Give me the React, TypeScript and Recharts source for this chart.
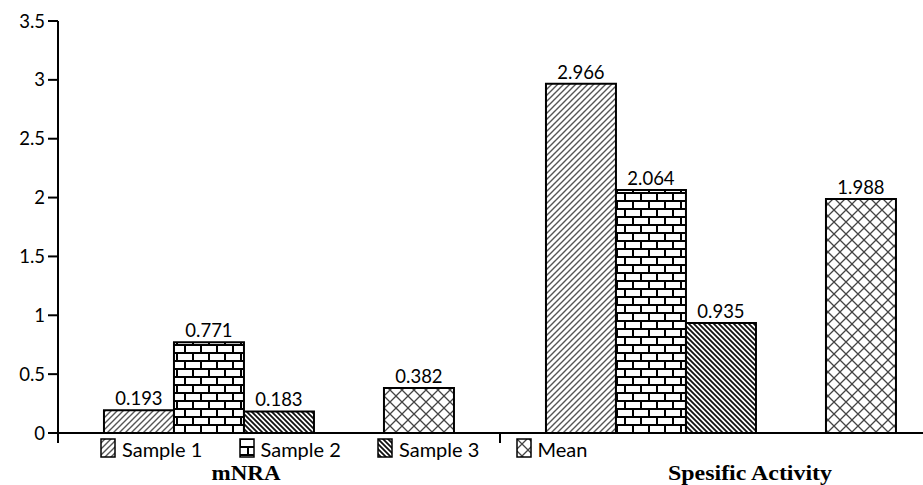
import * as React from "react"
import { BarChart, Bar, XAxis, YAxis, LabelList } from "recharts"

const categories = ["mNRA", "Spesific Activity"]
const sample1 = [0.193, 2.966]
const sample2 = [0.771, 2.064]
const sample3 = [0.183, 0.935]
const mean = [0.382, 1.988]
const yTicks = [0, 0.5, 1, 1.5, 2, 2.5, 3, 3.5]

const data = categories.map((name, i) => ({
  name,
  s1: sample1[i],
  s2: sample2[i],
  s3: sample3[i],
  mean: mean[i],
}))

const series = [
  { key: "s1", name: "Sample 1", fill: "url(#pat-s1)" },
  { key: "s2", name: "Sample 2", fill: "url(#pat-s2)" },
  { key: "s3", name: "Sample 3", fill: "url(#pat-s3)" },
  { key: "mean", name: "Mean", fill: "url(#pat-mean)" },
]

const BAND = 442
const labelShift: Record<string, { dx: number; w: number }> = {
  mNRA: { dx: -33, w: 69 },
  "Spesific Activity": { dx: 29, w: 164 },
}

function CategoryTick(props: any) {
  const { x, y, payload } = props
  const s = labelShift[payload.value] || { dx: 0, w: 80 }
  const edge = x - BAND / 2
  return (
    <g>
      <line x1={edge} y1={y} x2={edge} y2={y + 10} stroke="#000" strokeWidth={2} />
      <text
        x={x + s.dx}
        y={y + 47}
        textAnchor="middle"
        fontFamily="'Liberation Serif', serif"
        fontWeight="bold"
        fontSize={20}
        fill="#000"
        textLength={s.w}
        lengthAdjust="spacingAndGlyphs"
      >
        {payload.value}
      </text>
    </g>
  )
}

function Patterns() {
  return (
    <defs>
      <pattern id="pat-s1" width="6" height="6" patternUnits="userSpaceOnUse">
        <rect width="6" height="6" fill="#fff" />
        <path d="M0,6 L6,0 M-1.5,1.5 L1.5,-1.5 M4.5,7.5 L7.5,4.5" stroke="#555" strokeWidth={1.4} />
      </pattern>
      <pattern id="pat-s2" width="16" height="16" patternUnits="userSpaceOnUse">
        <rect width="16" height="16" fill="#fff" />
        <path d="M0,1 H16 M0,9 H16 M1,1 V9 M9,9 V17" stroke="#000" strokeWidth={2} fill="none" />
      </pattern>
      <pattern id="pat-s3" width="5" height="5" patternUnits="userSpaceOnUse">
        <rect width="5" height="5" fill="#fff" />
        <path d="M0,0 L5,5 M-1.25,3.75 L1.25,6.25 M3.75,-1.25 L6.25,1.25" stroke="#111" strokeWidth={1.8} />
      </pattern>
      <pattern id="pat-mean" width="12" height="12" patternUnits="userSpaceOnUse">
        <rect width="12" height="12" fill="#fff" />
        <path d="M0,0 L12,12 M12,0 L0,12" stroke="#444" strokeWidth={1.3} />
      </pattern>
    </defs>
  )
}

const fmt = (v: any) => (typeof v === "number" ? v.toFixed(3) : "")
const valueStyle = { fill: "#000", fontSize: 18.5, fontFamily: "Lato" }

export default function App() {
  return (
    <div style={{ position: "absolute", left: 0, top: 0, width: 923, height: 485, overflow: "hidden", background: "#fff" }}>
      <BarChart
        width={950}
        height={485}
        data={data}
        margin={{ top: 21, right: 8, left: 0, bottom: 0 }}
        barGap={0}
        barCategoryGap="10.4%"
      >
        <Patterns />
        <XAxis
          dataKey="name"
          height={52}
          axisLine={{ stroke: "#000", strokeWidth: 2 }}
          tickLine={false}
          tickSize={0}
          tickMargin={0}
          tick={<CategoryTick />}
          interval={0}
        />
        <YAxis
          width={58}
          domain={[0, 3.5]}
          ticks={yTicks}
          interval={0}
          axisLine={{ stroke: "#000", strokeWidth: 2 }}
          tickLine={{ stroke: "#000", strokeWidth: 2 }}
          tickSize={10}
          tickMargin={3}
          tick={{ fill: "#000", fontSize: 18.5, fontFamily: "Lato" }}
        />
        {series.slice(0, 3).map((s) => (
          <Bar key={s.key} dataKey={s.key} name={s.name} fill={s.fill} stroke="#000" strokeWidth={2} isAnimationActive={false}>
            <LabelList dataKey={s.key} position="top" formatter={fmt} style={valueStyle} />
          </Bar>
        ))}
        <Bar dataKey="gap" fill="none" legendType="none" isAnimationActive={false} />
        <Bar dataKey="mean" name="Mean" fill="url(#pat-mean)" stroke="#000" strokeWidth={2} isAnimationActive={false}>
          <LabelList dataKey="mean" position="top" formatter={fmt} style={valueStyle} />
        </Bar>
      </BarChart>
      <div
        style={{
          position: "absolute",
          left: 100,
          top: 437,
          display: "flex",
          fontFamily: "Lato",
          fontSize: 20,
          lineHeight: "24px",
          color: "#000",
        }}
      >
        {series.map((s) => (
          <div key={s.key} style={{ display: "flex", alignItems: "flex-start", width: s.key === "mean" ? 80 : 138.5 }}>
            <svg width={17} height={20} style={{ marginTop: 1, marginRight: 5, flex: "none" }}>
              <rect x={1} y={1} width={14} height={18} fill={s.fill} stroke="#000" strokeWidth={1.5} />
            </svg>
            <span>{s.name}</span>
          </div>
        ))}
      </div>
    </div>
  )
}
